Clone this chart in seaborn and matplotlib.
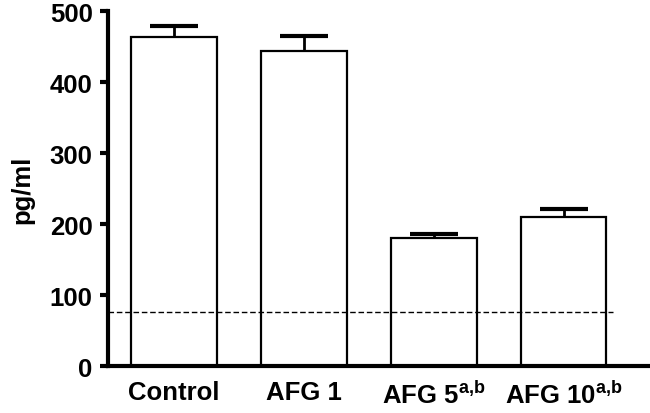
import matplotlib
matplotlib.use("Agg")
import matplotlib.pyplot as plt
import seaborn as sns
import pandas as pd

# valeurs (pg/ml)
groupes = ["Control", "AFG 1", r"AFG 5$^{\mathbf{a{,}b}}$", r"AFG 10$^{\mathbf{a{,}b}}$"]
moyennes = [463, 444, 180, 210]
erreurs = [16, 21, 6, 11]
seuil = 76          # ligne pointillée (limite de détection)
yticks = [0, 100, 200, 300, 400, 500]

sns.set_style("white")
plt.rcParams["font.family"] = ["Liberation Sans", "DejaVu Sans"]
plt.rcParams["font.weight"] = "bold"
plt.rcParams["mathtext.fontset"] = "custom"
plt.rcParams["mathtext.bf"] = "Liberation Sans:bold"
plt.rcParams["mathtext.rm"] = "Liberation Sans:bold"
# tout en noir, seaborn met du gris foncé par défaut
for k in ["text.color", "axes.labelcolor", "xtick.color", "ytick.color"]:
    plt.rcParams[k] = "black"

df = pd.DataFrame({"groupe": groupes, "valeur": moyennes})

fig = plt.figure(figsize=(6.5, 4.14), dpi=100)
ax = fig.add_axes([0.166, 0.1135, 0.831, 0.8575])

sns.barplot(data=df, x="groupe", y="valeur", color="white", edgecolor="black",
            linewidth=1.6, width=0.66, ax=ax, errorbar=None, zorder=2)

# barres d'erreur derrière les barres blanches -> seule la partie haute se voit
ax.errorbar(range(len(groupes)), moyennes, yerr=erreurs, fmt="none",
            ecolor="black", elinewidth=2.0, capsize=17, capthick=3, zorder=1)

ax.axhline(seuil, xmin=0, xmax=0.935, color="black", lw=1.0,
           linestyle=(0, (4, 2)), zorder=3)

ax.set_xlim(-0.51, 3.65)
ax.set_ylim(0, 500)
ax.set_yticks(yticks)
ax.set_xlabel("")
ax.set_ylabel("pg/ml", fontsize=18.5, fontweight="bold", labelpad=11)

for s in ["top", "right"]:
    ax.spines[s].set_visible(False)
for s in ["left", "bottom"]:
    ax.spines[s].set_linewidth(3)
    ax.spines[s].set_color("black")

ax.tick_params(axis="y", direction="out", length=6, width=3, labelsize=18.5, pad=5, left=True)
ax.tick_params(axis="x", length=0, labelsize=18.5, pad=10)
for lab in ax.get_xticklabels() + ax.get_yticklabels():
    lab.set_fontweight("bold")

plt.savefig("out.png", dpi=100)
